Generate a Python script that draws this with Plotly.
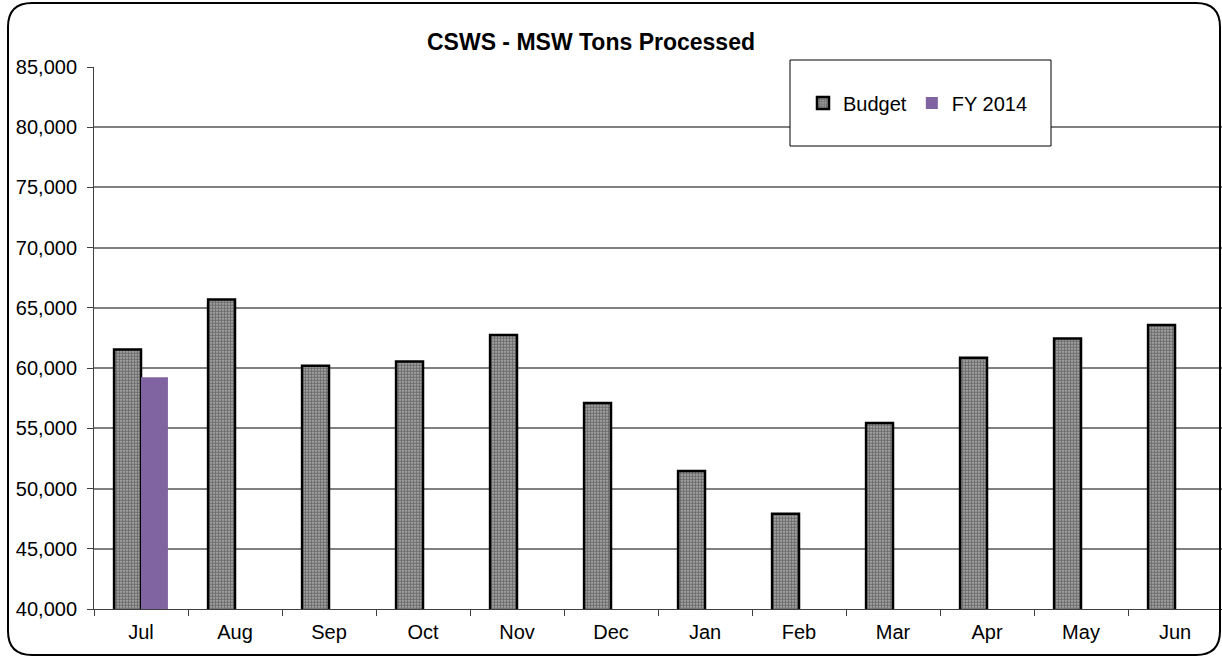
import plotly.graph_objects as go

months = ["Jul", "Aug", "Sep", "Oct", "Nov", "Dec", "Jan", "Feb", "Mar", "Apr", "May", "Jun"]
budget = [61550, 65700, 60200, 60550, 62750, 57100, 51450, 47900, 55450, 60850, 62450, 63580]
fy2014 = [59250, None, None, None, None, None, None, None, None, None, None, None]

W, H = 1222, 657
L, R, T, B = 94, 0, 67, 48
pw, ph = W - L - R, H - T - B

def px(x):
    return (x - L) / pw

def py(y):
    return (H - B - y) / ph

fig = go.Figure()
fig.add_trace(go.Bar(
    x=months, y=budget, name="Budget",
    marker=dict(color="#bdbdbd", line=dict(color="black", width=2.5),
                pattern=dict(shape=".", fgcolor="#1e1e1e", size=3, solidity=0.7)),
))
fig.add_trace(go.Bar(
    x=months, y=fy2014, name="FY 2014",
    marker=dict(color="#8064A2", line=dict(width=0)),
))

# rounded frame around the whole chart
x0, y0, x1, y1, r = 8, 3, 1220, 655, 24
path = (f"M {px(x0 + r)},{py(y0)} L {px(x1 - r)},{py(y0)} "
        f"Q {px(x1)},{py(y0)} {px(x1)},{py(y0 + r)} "
        f"L {px(x1)},{py(y1 - r)} Q {px(x1)},{py(y1)} {px(x1 - r)},{py(y1)} "
        f"L {px(x0 + r)},{py(y1)} Q {px(x0)},{py(y1)} {px(x0)},{py(y1 - r)} "
        f"L {px(x0)},{py(y0 + r)} Q {px(x0)},{py(y0)} {px(x0 + r)},{py(y0)} Z")

shapes = [
    dict(type="path", path=path, xref="paper", yref="paper",
         line=dict(color="black", width=2), layer="above"),
    dict(type="rect", xref="paper", yref="paper",
         x0=px(790), x1=px(1051), y0=py(146), y1=py(60),
         line=dict(color="black", width=1), fillcolor="white", layer="above"),
]

fig.update_layout(
    width=W, height=H,
    margin=dict(l=L, r=R, t=T, b=B),
    paper_bgcolor="white", plot_bgcolor="white",
    font=dict(family="Liberation Sans, Arial, sans-serif", size=20, color="black"),
    title=dict(text="<b>CSWS - MSW Tons Processed</b>", x=591 / W, xref="container",
               xanchor="center", y=1 - 42 / H, yref="container", yanchor="middle",
               font=dict(size=23, color="black")),
    barmode="group", bargap=0.427, bargroupgap=0,
    shapes=shapes,
    showlegend=True,
    legend=dict(orientation="h", x=px(918), y=py(103), xanchor="center", yanchor="middle",
                bgcolor="rgba(0,0,0,0)", borderwidth=0, font=dict(size=20),
                itemwidth=30, traceorder="normal"),
    xaxis=dict(type="category", showline=True, linecolor="#404040", linewidth=1,
               ticks="outside", tickson="boundaries", ticklen=6, tickcolor="#404040",
               showgrid=False, tickfont=dict(size=20), ticklabelstandoff=5),
    yaxis=dict(range=[40000, 85000], dtick=5000, tickformat=",", showline=True,
               linecolor="#404040", linewidth=1, ticks="outside", ticklen=6,
               tickcolor="#404040", showgrid=True, gridcolor="#808080", gridwidth=1.5,
               zeroline=False, tickfont=dict(size=20), ticklabelstandoff=6),
)

fig.write_html("out.html", config={"displayModeBar": False},
               post_script="document.body.style.margin='0px';")
